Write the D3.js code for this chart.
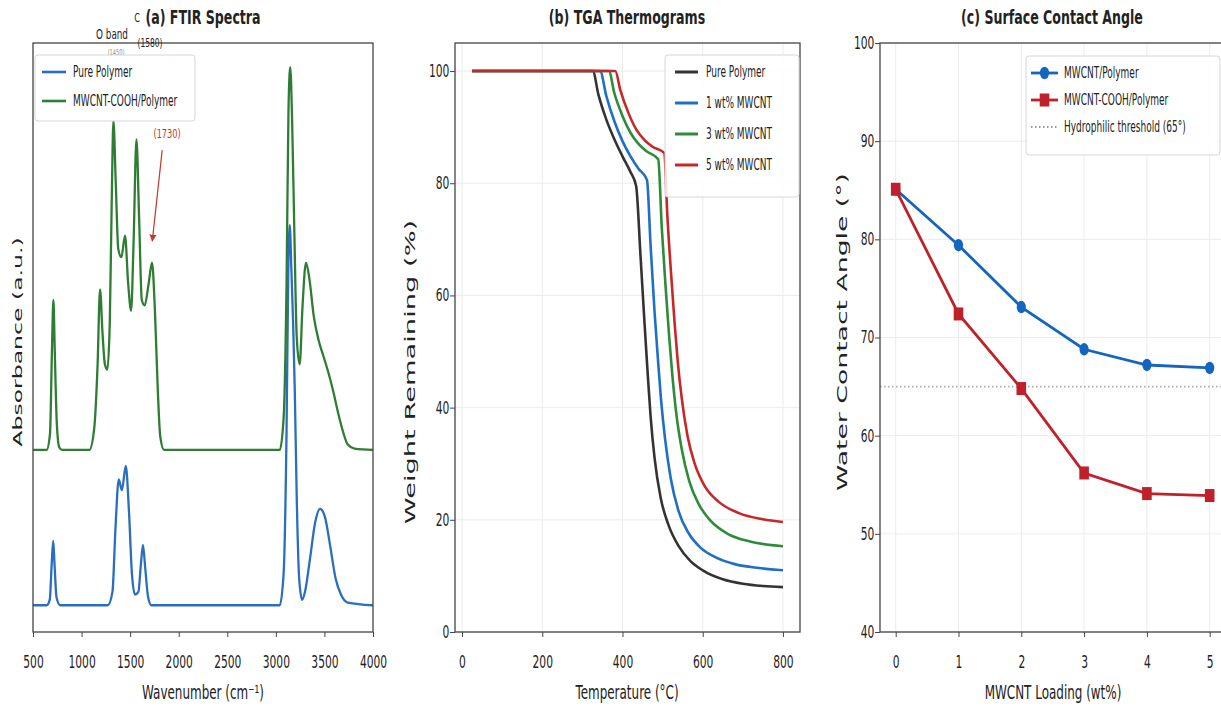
<!DOCTYPE html>
<html>
<head>
<meta charset="utf-8">
<script src="https://cdn.jsdelivr.net/npm/d3@7"></script>
<style>
body { margin: 0; background: #fff; }
svg text { font-family: "DejaVu Sans", sans-serif; fill: #222; }
</style>
</head>
<body>
<svg id="chart" width="1221" height="709"></svg>
<script>
// ---- data ----
// FTIR spectra: [wavenumber, absorbance (offset)]
var ftirPure = [[500,0],[640,0],[672,0.02],[692,0.15],[708,0.24],[722,0.15],[742,0.03],[780,0],[1270,0],[1318,0.05],[1348,0.28],[1383,0.47],[1415,0.43],[1455,0.52],[1488,0.35],[1518,0.12],[1550,0.04],[1585,0.05],[1610,0.15],[1632,0.225],[1655,0.14],[1685,0.03],[1720,0],[3040,0],[3080,0.12],[3110,0.65],[3128,1.25],[3143,1.42],[3160,1.25],[3178,1.05],[3195,0.8],[3215,0.4],[3240,0.1],[3270,0.02],[3300,0.05],[3350,0.17],[3405,0.31],[3455,0.36],[3505,0.33],[3560,0.22],[3615,0.1],[3670,0.04],[3740,0.01],[4000,0]];
var ftirCooh = [[500,0.58],[640,0.58],[675,0.64],[695,0.95],[710,1.14],[724,0.95],[745,0.68],[770,0.59],[800,0.58],[1080,0.58],[1130,0.66],[1165,0.9],[1190,1.18],[1215,1.02],[1240,0.9],[1265,0.88],[1290,1.05],[1310,1.5],[1328,1.81],[1350,1.6],[1378,1.33],[1410,1.3],[1447,1.38],[1480,1.2],[1510,1.1],[1535,1.35],[1565,1.74],[1592,1.45],[1620,1.14],[1650,1.12],[1690,1.2],[1725,1.28],[1755,1.1],[1785,0.8],[1810,0.63],[1850,0.58],[3040,0.58],[3080,0.7],[3110,1.2],[3130,1.85],[3148,2.01],[3168,1.8],[3190,1.4],[3215,1.0],[3245,0.9],[3275,1.12],[3310,1.28],[3345,1.22],[3390,1.08],[3440,0.99],[3490,0.93],[3540,0.87],[3590,0.8],[3640,0.72],[3690,0.65],[3740,0.6],[3810,0.585],[4000,0.58]];
var ftirTicks = [500, 1000, 1500, 2000, 2500, 3000, 3500, 4000];

// TGA: [temperature, weight %]
var tgaPure = [[25,100],[326,100],[340,95.8],[360,91.3],[380,87.8],[400,84.8],[420,82],[434,79.5],[445,67],[455,55],[462,47],[470,38.5],[480,31],[495,24],[515,19],[540,15.3],[570,12.6],[600,11],[650,9.4],[700,8.6],[750,8.2],[800,8]];
var tga1 = [[25,100],[344,100],[360,95.5],[380,91],[400,87.5],[420,84.8],[440,82.6],[461,80.6],[470,69],[480,57],[488,49],[496,41.5],[506,34.5],[520,27.5],[540,21.5],[565,17.6],[595,15],[630,13.4],[680,12.1],[740,11.4],[800,11]];
var tga3 = [[25,100],[366,100],[380,96],[400,92],[420,89],[440,87],[460,85.7],[489,84.3],[498,72],[508,61],[516,53],[524,46],[534,39],[548,32.5],[566,27],[590,22.8],[620,19.8],[660,17.6],[720,16.1],[800,15.3]];
var tga5 = [[25,100],[382,100],[395,96.5],[415,92.5],[435,89.5],[455,87.7],[475,86.5],[504,85.4],[512,74],[522,63],[530,55],[538,48],[548,41.5],[562,35],[580,30],[605,26],[640,23.2],[690,21.2],[750,20.1],[800,19.6]];
var tgaXTicks = [0, 200, 400, 600, 800];
var tgaYTicks = [0, 20, 40, 60, 80, 100];

// contact angle
var loadings = [0, 1, 2, 3, 4, 5];
var caMwcnt = [85.1, 79.4, 73.1, 68.8, 67.2, 66.9];
var caCooh = [85.1, 72.4, 64.8, 56.2, 54.1, 53.9];
var hydroThreshold = 65;
var caYTicks = [40, 50, 60, 70, 80, 90, 100];

// ---- drawing ----
var SX = 0.63;   // the reference is squeezed sideways, so is all the text
var svg = d3.select("#chart");

function txt(x, y, s, o) {
    o = o || {};
    var t = svg.append("text")
        .attr("transform", "translate(" + x + "," + y + ") scale(" + (o.sx || SX) + "," + (o.sy || 1) + ")" + (o.rot ? " rotate(-90)" : ""))
        .attr("text-anchor", o.anchor || "middle")
        .attr("dominant-baseline", "central")
        .style("font-size", (o.size || 15) + "px")
        .text(s);
    if (o.bold) t.style("font-weight", "bold");
    if (o.fill) t.style("fill", o.fill);
    return t;
}

function frame(x0, y0, x1, y1) {
    svg.append("rect")
        .attr("x", x0).attr("y", y0)
        .attr("width", x1 - x0).attr("height", y1 - y0)
        .attr("fill", "none").attr("stroke", "#444").attr("stroke-width", 1.3);
}

function xAxis(x, y, ticks) {
    var g = svg.append("g").attr("transform", "translate(0," + y.range()[0] + ")")
        .call(d3.axisBottom(x).tickValues(ticks).tickSize(5).tickPadding(19).tickFormat(d3.format("d")));
    g.select(".domain").remove();
    g.selectAll("line").attr("stroke", "#444");
    g.selectAll("text").attr("transform", "scale(" + SX + ",1)").style("font-size", "17px").style("fill", "#222");
}

function yAxis(x, y, ticks) {
    var g = svg.append("g").attr("transform", "translate(" + x.range()[0] + ",0)")
        .call(d3.axisLeft(y).tickValues(ticks).tickSize(5).tickPadding(4).tickFormat(d3.format("d")));
    g.select(".domain").remove();
    g.selectAll("line").attr("stroke", "#444");
    g.selectAll("text").attr("transform", "scale(" + SX + ",1)").style("font-size", "17px").style("fill", "#222");
}

function grid(x, y, xt, yt) {
    var g = svg.append("g").attr("stroke", "#ececec").attr("stroke-width", 1);
    g.selectAll(".gx").data(xt).enter().append("line")
        .attr("x1", function (d) { return x(d); }).attr("x2", function (d) { return x(d); })
        .attr("y1", y.range()[0]).attr("y2", y.range()[1]);
    g.selectAll(".gy").data(yt).enter().append("line")
        .attr("x1", x.range()[0]).attr("x2", x.range()[1])
        .attr("y1", function (d) { return y(d); }).attr("y2", function (d) { return y(d); });
}

function legendBox(x0, y0, x1, y1) {
    svg.append("rect").attr("x", x0).attr("y", y0).attr("width", x1 - x0).attr("height", y1 - y0)
        .attr("rx", 3).attr("fill", "#fff").attr("fill-opacity", 0.85)
        .attr("stroke", "#d6d6d6");
}

// (a) FTIR
var xa = d3.scaleLinear().domain([500, 4000]).range([33, 373]);
var ya = d3.scaleLinear().domain([-0.1, 2.1]).range([632, 43]);
var lineA = d3.line().x(function (d) { return xa(d[0]); }).y(function (d) { return ya(d[1]); }).curve(d3.curveMonotoneX);

svg.append("path").datum(ftirPure).attr("d", lineA).attr("fill", "none").attr("stroke", "#2a6ebd").attr("stroke-width", 2.3);
svg.append("path").datum(ftirCooh).attr("d", lineA).attr("fill", "none").attr("stroke", "#2e7d32").attr("stroke-width", 2.3);

svg.append("defs").append("marker").attr("id", "arr")
    .attr("viewBox", "0 0 10 10").attr("refX", 9).attr("refY", 5)
    .attr("markerWidth", 6).attr("markerHeight", 6).attr("orient", "auto")
    .append("path").attr("d", "M0,0L10,5L0,10z").attr("fill", "#c0392b");
svg.append("line")
    .attr("x1", xa(1830)).attr("y1", ya(1.7))
    .attr("x2", xa(1728)).attr("y2", ya(1.36))
    .attr("stroke", "#c0392b").attr("stroke-width", 1.2).attr("marker-end", "url(#arr)");
txt(xa(1880), ya(1.76), "(1730)", { size: 13, fill: "#c0392b" });

frame(33, 43, 373, 632);
xAxis(xa, ya, ftirTicks);

// overlapping band labels near the top of panel (a)
txt(137, 18, "C", { size: 13 });
txt(112, 34, "O band", { size: 14 });
txt(150, 43, "(1580)", { size: 12 });
txt(116, 53, "(1450)", { size: 8, fill: "#888" });

legendBox(35, 55, 195, 121);
svg.append("line").attr("x1", 42).attr("x2", 66).attr("y1", 72).attr("y2", 72).attr("stroke", "#2a6ebd").attr("stroke-width", 2.6);
svg.append("line").attr("x1", 42).attr("x2", 66).attr("y1", 101).attr("y2", 101).attr("stroke", "#2e7d32").attr("stroke-width", 2.6);
txt(73, 72, "Pure Polymer", { size: 15, anchor: "start", sx: 0.6 });
txt(73, 101, "MWCNT-COOH/Polymer", { size: 15, anchor: "start", sx: 0.6 });

txt(203, 17, "(a) FTIR Spectra", { size: 20, bold: true });
txt(203, 692, "Wavenumber (cm\u207B\u00B9)", { size: 19 });
txt(18, 342, "Absorbance (a.u.)", { size: 19, rot: true, sy: 1.24 });

// (b) TGA
var xb = d3.scaleLinear().domain([-17.5, 842.5]).range([455, 800]);
var yb = d3.scaleLinear().domain([0, 105]).range([632, 43]);
var lineB = d3.line().x(function (d) { return xb(d[0]); }).y(function (d) { return yb(d[1]); }).curve(d3.curveMonotoneX);

grid(xb, yb, tgaXTicks, tgaYTicks);
var tgaSeries = [
    { name: "Pure Polymer", data: tgaPure, color: "#333333" },
    { name: "1 wt% MWCNT", data: tga1, color: "#1f6fc5" },
    { name: "3 wt% MWCNT", data: tga3, color: "#2e8b3a" },
    { name: "5 wt% MWCNT", data: tga5, color: "#c62828" }
];
tgaSeries.forEach(function (s) {
    svg.append("path").datum(s.data).attr("d", lineB).attr("fill", "none")
        .attr("stroke", s.color).attr("stroke-width", 2.6);
});
frame(455, 43, 800, 632);
xAxis(xb, yb, tgaXTicks);
yAxis(xb, yb, tgaYTicks);

legendBox(665, 55, 799, 197);
tgaSeries.forEach(function (s, i) {
    var yy = 72 + i * 31;
    svg.append("line").attr("x1", 675).attr("x2", 698).attr("y1", yy).attr("y2", yy)
        .attr("stroke", s.color).attr("stroke-width", 3);
    txt(706, yy, s.name, { size: 15, anchor: "start", sx: 0.6 });
});

txt(627, 17, "(b) TGA Thermograms", { size: 20, bold: true });
txt(627, 692, "Temperature (\u00B0C)", { size: 19 });
txt(410, 372, "Weight Remaining (%)", { size: 21, rot: true, sy: 1.3 });

// (c) contact angle
var xc = d3.scaleLinear().domain([-0.25, 5.25]).range([880, 1225.4]);
var yc = d3.scaleLinear().domain([40, 100]).range([632, 43]);

grid(xc, yc, loadings, caYTicks);
svg.append("line").attr("x1", 880).attr("x2", 1221)
    .attr("y1", yc(hydroThreshold)).attr("y2", yc(hydroThreshold))
    .attr("stroke", "#9a9a9a").attr("stroke-width", 1.8).attr("stroke-dasharray", "1.5,2.5").attr("opacity", 0.8);

var caSeries = [
    { name: "MWCNT/Polymer", vals: caMwcnt, color: "#1565c0", shape: "circle" },
    { name: "MWCNT-COOH/Polymer", vals: caCooh, color: "#c0202a", shape: "square" }
];
var lineC = d3.line().x(function (d, i) { return xc(loadings[i]); }).y(function (d) { return yc(d); });

function marker(g, cx, cy, s) {
    if (s.shape === "circle") {
        g.append("ellipse").attr("cx", cx).attr("cy", cy).attr("rx", 4.6).attr("ry", 6.2).attr("fill", s.color);
    } else {
        g.append("rect").attr("x", cx - 4.8).attr("y", cy - 6.5).attr("width", 9.6).attr("height", 13).attr("fill", s.color);
    }
}

caSeries.forEach(function (s) {
    svg.append("path").datum(s.vals).attr("d", lineC).attr("fill", "none")
        .attr("stroke", s.color).attr("stroke-width", 2.8);
    var g = svg.append("g");
    s.vals.forEach(function (v, i) { marker(g, xc(loadings[i]), yc(v), s); });
});
frame(880, 43, 1226, 632);
xAxis(xc, yc, loadings);
yAxis(xc, yc, caYTicks);

legendBox(1026, 56, 1220, 155);
caSeries.forEach(function (s, i) {
    var yy = 73 + i * 27;
    svg.append("line").attr("x1", 1031).attr("x2", 1058).attr("y1", yy).attr("y2", yy)
        .attr("stroke", s.color).attr("stroke-width", 2.8);
    marker(svg, 1044.5, yy, s);
    txt(1064, yy, s.name, { size: 15, anchor: "start", sx: 0.6 });
});
svg.append("line").attr("x1", 1031).attr("x2", 1058).attr("y1", 127).attr("y2", 127)
    .attr("stroke", "#9a9a9a").attr("stroke-width", 1.8).attr("stroke-dasharray", "1.5,2.5");
txt(1064, 127, "Hydrophilic threshold (65\u00B0)", { size: 15, anchor: "start", sx: 0.6 });

txt(1052, 17, "(c) Surface Contact Angle", { size: 20, bold: true });
txt(1053, 692, "MWCNT Loading (wt%)", { size: 19 });
txt(842, 332, "Water Contact Angle (\u00B0)", { size: 21, rot: true, sy: 1.27 });
</script>
</body>
</html>
